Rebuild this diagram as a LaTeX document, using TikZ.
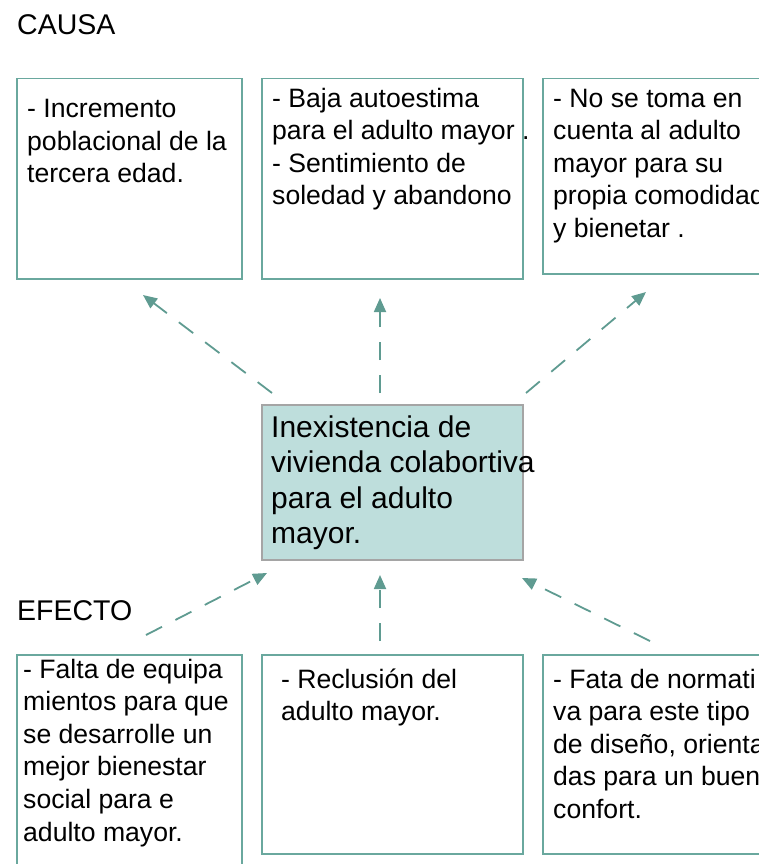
\documentclass[tikz,border=0pt]{standalone}
\usepackage{fontspec}
\setmainfont{Liberation Sans}
\usetikzlibrary{arrows.meta}
\definecolor{boxline}{RGB}{106,168,158}
\definecolor{arrowc}{RGB}{95,155,145}
\definecolor{centfill}{RGB}{190,222,220}
\definecolor{centline}{RGB}{165,165,165}
\begin{document}
\begin{tikzpicture}[x=1pt,y=-1pt,
  boxstyle/.style={draw=boxline,line width=1.5pt,rectangle,anchor=north west,inner sep=0pt},
  centbox/.style={draw=centline,fill=centfill,line width=2pt,rectangle,anchor=north west,inner sep=0pt},
  txt/.style={anchor=north west,inner sep=0pt,align=left,font=\fontsize{26.6}{32.6}\selectfont},
  ctxt/.style={anchor=north west,inner sep=0pt,align=left,font=\fontsize{30}{35.5}\selectfont},
  conn/.style={draw=arrowc,line width=1.8pt,dash pattern=on 18pt off 15pt,-{Triangle[length=14pt,width=12pt]}},
  titletxt/.style={anchor=base west,inner sep=0pt,font=\fontsize{28.5}{34}\selectfont}]
\useasboundingbox (0,0) rectangle (759,864);

% titles
\node[titletxt] (causa) at (17,35) {CAUSA};
\node[titletxt] (efecto) at (17,620) {EFECTO};

% top boxes
\node[boxstyle,minimum width=225pt,minimum height=200pt] (b1) at (16,78) {};
\node[boxstyle,minimum width=261pt,minimum height=200pt] (b2) at (261,78) {};
\node[boxstyle,minimum width=240pt,minimum height=195pt] (b3) at (542,78) {};

\node[txt] (t1) at (27,94.5) {\strut- Incremento\\poblacional de la\\tercera edad.};
\node[txt] (t2) at (272,84) {\strut- Baja autoestima\\para el adulto mayor .\\- Sentimiento de\\soledad y abandono};
\node[txt] (t3) at (553,84) {\strut- No se toma en\\cuenta al adulto\\mayor para su\\propia comodidad\\y bienetar .};

% center box
\node[centbox,minimum width=261pt,minimum height=155pt] (c) at (261,404) {};
\node[ctxt] (ct) at (271,412) {\strut Inexistencia de\\vivienda colabortiva\\para el adulto\\mayor.};

% bottom boxes
\node[boxstyle,minimum width=225pt,minimum height=230pt] (b4) at (16,654) {};
\node[boxstyle,minimum width=261pt,minimum height=199pt] (b5) at (261,654) {};
\node[boxstyle,minimum width=240pt,minimum height=199pt] (b6) at (542,654) {};

\node[txt] (t4) at (23,655) {\strut- Falta de equipa\\mientos para que\\se desarrolle un\\mejor bienestar\\social para e\\adulto mayor.};
\node[txt] (t5) at (281,665) {\strut- Reclusión del\\adulto mayor.};
\node[txt] (t6) at (553,665) {\strut- Fata de normati\\va para este tipo\\de diseño, orienta\\das para un buen\\confort.};

% connector end points
\coordinate (a1s) at (272,393); \coordinate (a1e) at (143,295);
\coordinate (a2s) at (380,393); \coordinate (a2e) at (380,298);
\coordinate (a3s) at (526,393); \coordinate (a3e) at (646,292);
\coordinate (a4s) at (146,635); \coordinate (a4e) at (267,573);
\coordinate (a5s) at (380,641); \coordinate (a5e) at (380,575);
\coordinate (a6s) at (650,641); \coordinate (a6e) at (522,578);

\draw[conn] (a1s) -- (a1e);
\draw[conn] (a2s) -- (a2e);
\draw[conn] (a3s) -- (a3e);
\draw[conn] (a4s) -- (a4e);
\draw[conn] (a5s) -- (a5e);
\draw[conn] (a6s) -- (a6e);
\end{tikzpicture}
\end{document}
